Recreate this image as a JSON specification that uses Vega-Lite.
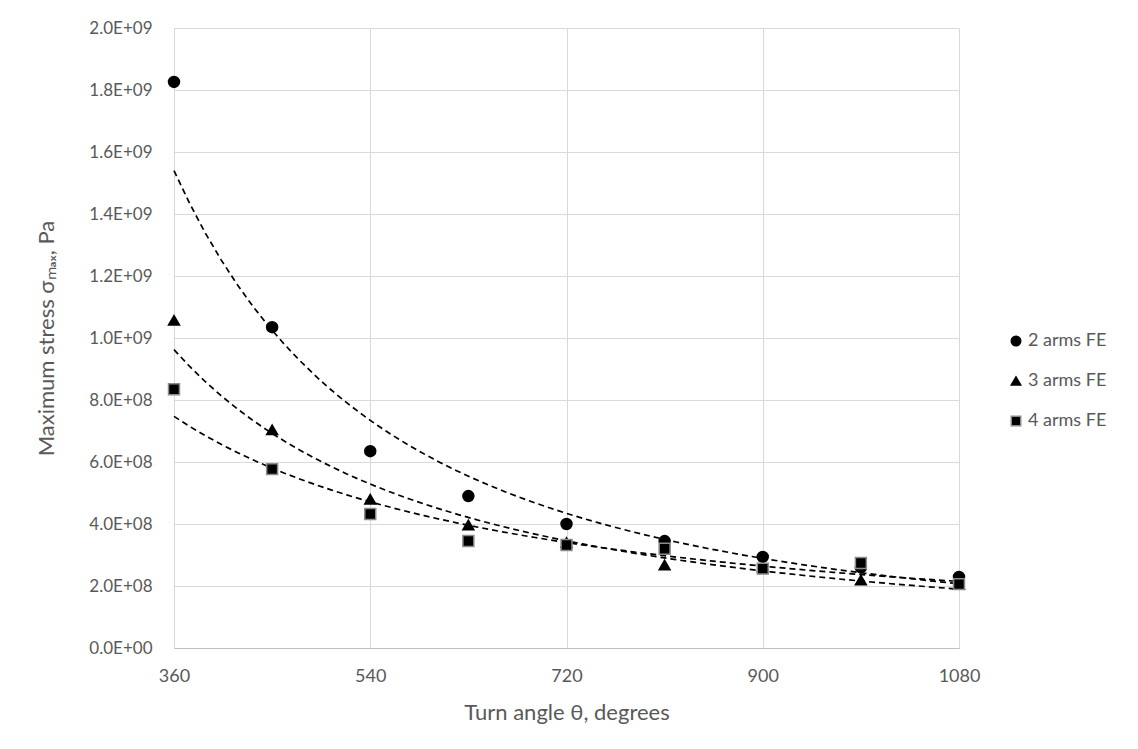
{
  "$schema": "https://vega.github.io/schema/vega-lite/v6.json",
  "autosize": {"type": "none"},
  "padding": {"left": 174, "top": 28, "right": 179, "bottom": 101},
  "width": 785,
  "height": 620,
  "background": "white",
  "config": {
    "font": "Lato",
    "view": {"stroke": null},
    "axis": {"labelColor": "#595959", "titleColor": "#595959", "labelFont": "Lato", "titleFont": "Lato", "titleFontWeight": "normal", "gridColor": "#d9d9d9", "ticks": false}
  },
  "data": {
    "values": [
      {"angle": 360, "stress": 1.826e9, "series": "2 arms FE"},
      {"angle": 450, "stress": 1.035e9, "series": "2 arms FE"},
      {"angle": 540, "stress": 6.35e8, "series": "2 arms FE"},
      {"angle": 630, "stress": 4.9e8, "series": "2 arms FE"},
      {"angle": 720, "stress": 4.0e8, "series": "2 arms FE"},
      {"angle": 810, "stress": 3.45e8, "series": "2 arms FE"},
      {"angle": 900, "stress": 2.94e8, "series": "2 arms FE"},
      {"angle": 990, "stress": 2.6e8, "series": "2 arms FE"},
      {"angle": 1080, "stress": 2.29e8, "series": "2 arms FE"},
      {"angle": 360, "stress": 1.057e9, "series": "3 arms FE"},
      {"angle": 450, "stress": 7.04e8, "series": "3 arms FE"},
      {"angle": 540, "stress": 4.8e8, "series": "3 arms FE"},
      {"angle": 630, "stress": 3.97e8, "series": "3 arms FE"},
      {"angle": 720, "stress": 3.4e8, "series": "3 arms FE"},
      {"angle": 810, "stress": 2.68e8, "series": "3 arms FE"},
      {"angle": 900, "stress": 2.62e8, "series": "3 arms FE"},
      {"angle": 990, "stress": 2.19e8, "series": "3 arms FE"},
      {"angle": 1080, "stress": 2.05e8, "series": "3 arms FE"},
      {"angle": 360, "stress": 8.35e8, "series": "4 arms FE"},
      {"angle": 450, "stress": 5.77e8, "series": "4 arms FE"},
      {"angle": 540, "stress": 4.32e8, "series": "4 arms FE"},
      {"angle": 630, "stress": 3.45e8, "series": "4 arms FE"},
      {"angle": 720, "stress": 3.32e8, "series": "4 arms FE"},
      {"angle": 810, "stress": 3.2e8, "series": "4 arms FE"},
      {"angle": 900, "stress": 2.56e8, "series": "4 arms FE"},
      {"angle": 990, "stress": 2.74e8, "series": "4 arms FE"},
      {"angle": 1080, "stress": 2.06e8, "series": "4 arms FE"}
    ]
  },
  "layer": [
    {
      "transform": [
        {"regression": "stress", "on": "angle", "groupby": ["series"], "method": "pow"}
      ],
      "mark": {"type": "line", "color": "black", "strokeDash": [6, 4], "strokeWidth": 1.7},
      "encoding": {
        "x": {"field": "angle", "type": "quantitative"},
        "y": {"field": "stress", "type": "quantitative"},
        "detail": {"field": "series"}
      }
    },
    {
      "mark": {"type": "point", "filled": true, "opacity": 1, "size": 120, "strokeWidth": 1.5},
      "encoding": {
        "x": {
          "field": "angle", "type": "quantitative",
          "scale": {"domain": [360, 1080], "nice": false, "zero": false},
          "axis": {"values": [360, 540, 720, 900, 1080], "format": "d", "labelFlush": false, "title": "Turn angle θ, degrees", "labelFontSize": 18, "titleFontSize": 22, "labelPadding": 19, "titlePadding": 17, "domainColor": "#bfbfbf", "domainWidth": 1, "grid": true}
        },
        "y": {
          "field": "stress", "type": "quantitative",
          "scale": {"domain": [0, 2000000000], "nice": false},
          "axis": {"values": [0, 200000000, 400000000, 600000000, 800000000, 1000000000, 1200000000, 1400000000, 1600000000, 1800000000, 2000000000], "labelExpr": "replace(format(datum.value, '.1e'), 'e+', 'E+0')", "title": "Maximum stress σₘₐₓ, Pa", "labelFontSize": 17, "titleFontSize": 22, "labelPadding": 22, "titlePadding": 30, "domain": false, "grid": true}
        },
        "shape": {
          "field": "series", "type": "nominal",
          "scale": {"domain": ["2 arms FE", "3 arms FE", "4 arms FE"], "range": ["circle", "triangle-up", "square"]},
          "legend": {"title": null, "orient": "none", "legendX": 833, "legendY": 304, "labelFontSize": 18, "labelColor": "#595959", "symbolSize": 90, "rowPadding": 22, "labelOffset": 3, "symbolStrokeWidth": 1.5}
        },
        "fill": {
          "field": "series", "type": "nominal",
          "scale": {"domain": ["2 arms FE", "3 arms FE", "4 arms FE"], "range": ["black", "black", "black"]},
          "legend": null
        },
        "stroke": {
          "field": "series", "type": "nominal",
          "scale": {"domain": ["2 arms FE", "3 arms FE", "4 arms FE"], "range": ["black", "black", "#8c8c8c"]},
          "legend": null
        }
      }
    }
  ]
}
